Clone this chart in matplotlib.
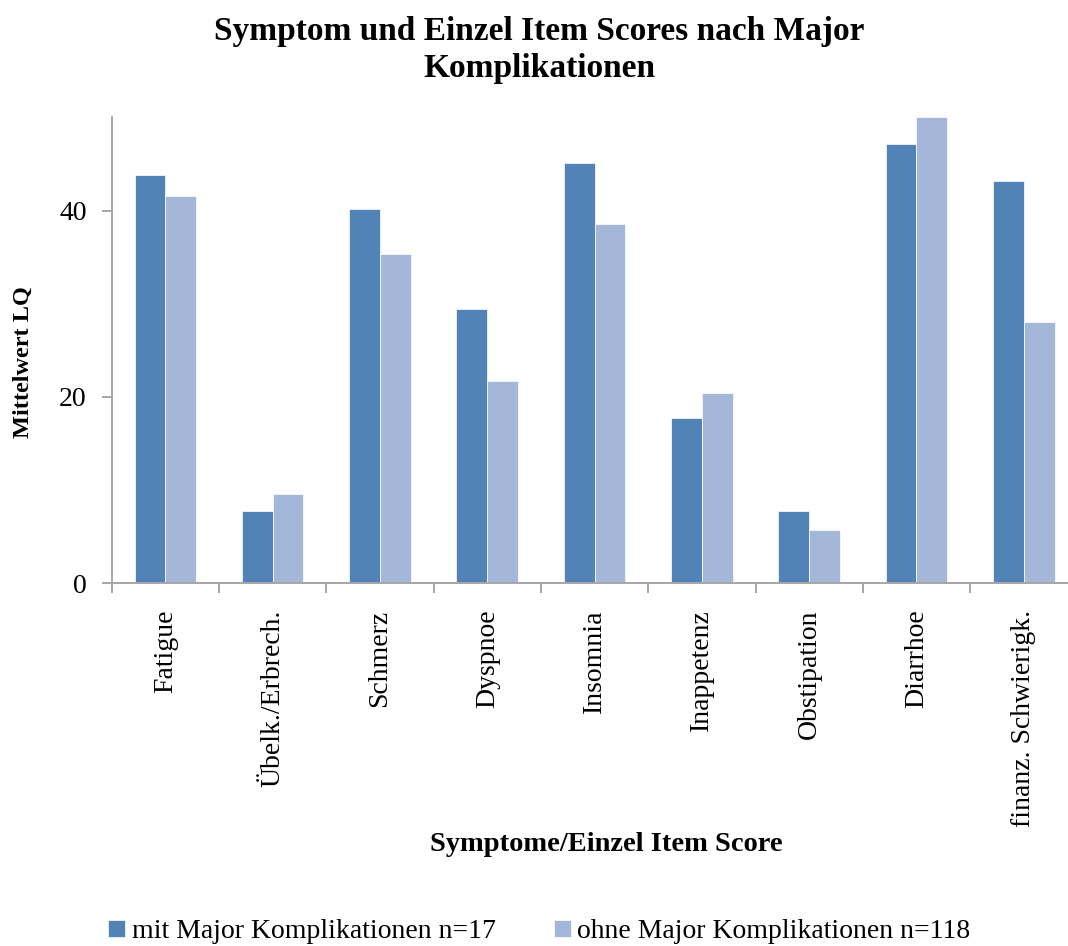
import numpy as np
import matplotlib.pyplot as plt

# Daten
kategorien = ['Fatigue', 'Übelk./Erbrech.', 'Schmerz', 'Dyspnoe', 'Insomnia',
              'Inappetenz', 'Obstipation', 'Diarrhoe', 'finanz. Schwierigk.']
mit_major = [43.8, 7.8, 40.2, 29.4, 45.1, 17.7, 7.8, 47.1, 43.2]
ohne_major = [41.6, 9.6, 35.3, 21.7, 38.5, 20.4, 5.7, 50.0, 28.0]
serien = ['mit Major Komplikationen n=17', 'ohne Major Komplikationen n=118']
farben = ['#5283B6', '#A4B7D9']

plt.rcParams['font.family'] = ['Liberation Serif', 'DejaVu Serif']

fig = plt.figure(figsize=(10.68, 9.46), dpi=100)
ax = fig.add_axes([0.1046, 0.3834, 0.9042, 0.4926])

x = np.arange(len(kategorien)) + 0.5
w = 0.287
ax.bar(x - w / 2, mit_major, w, color=farben[0], edgecolor='white', linewidth=0.5, label=serien[0])
ax.bar(x + w / 2, ohne_major, w, color=farben[1], edgecolor='white', linewidth=0.5, label=serien[1])

ax.set_xlim(0, len(kategorien))
ax.set_ylim(0, 50)
ax.set_yticks([0, 20, 40])

ax.set_xticks(x)
ax.set_xticklabels(kategorien, rotation=90, va='top', ha='center', fontsize=20)
ax.set_xticks(np.arange(len(kategorien) + 1), minor=True)
ax.tick_params(axis='x', which='major', length=0, pad=19)
ax.tick_params(axis='x', which='minor', length=7, width=1.4, color='#A6A6A6', direction='out')
ax.tick_params(axis='y', length=7, width=1.4, color='#A6A6A6', labelsize=20, pad=11)

for s in ['top', 'right']:
    ax.spines[s].set_visible(False)
for s in ['left', 'bottom']:
    ax.spines[s].set_color('#A6A6A6')
    ax.spines[s].set_linewidth(1.4)

ax.set_ylabel('Mittelwert LQ', fontsize=17.5, fontweight='bold')
ax.yaxis.set_label_coords(-0.081, 0.475)
fig.text(0.568, 0.107, 'Symptome/Einzel Item Score', fontsize=20.5, fontweight='bold',
         ha='center', va='center')
fig.text(0.505, 0.947, 'Symptom und Einzel Item Scores nach Major\nKomplikationen',
         fontsize=24, fontweight='bold', ha='center', va='center', linespacing=1.22)

fig.legend(loc='center', bbox_to_anchor=(0.505, 0.015), ncol=2, frameon=False,
           fontsize=20, handlelength=0.6, handleheight=0.6, handletextpad=0.25,
           columnspacing=2.1)

plt.savefig('out.png', dpi=100)
